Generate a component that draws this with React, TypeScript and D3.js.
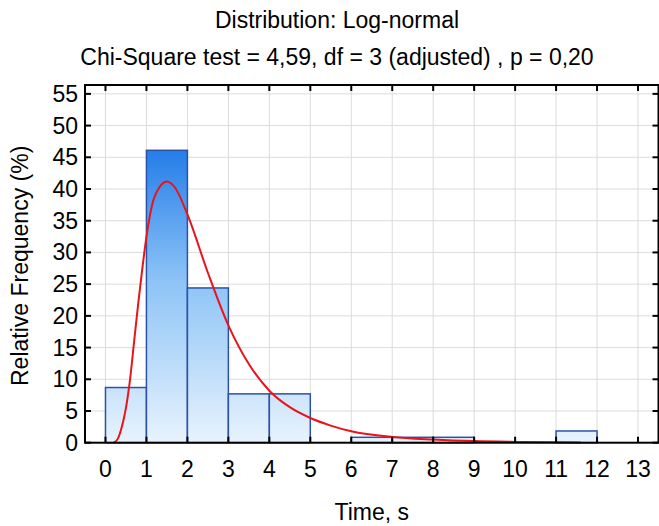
import React, { useEffect, useRef } from 'react';
import * as d3 from 'd3';

// histogram bins (Time, s) and relative frequency (%)
const binStarts = [0, 1, 2, 3, 4, 5, 6, 7, 8, 9, 10, 11, 12];
const binValues = [8.7, 46.1, 24.4, 7.7, 7.7, 0, 0.85, 0.85, 0.85, 0, 0, 1.85, 0];

// fitted log-normal curve
const curveX = [0.2, 0.3, 0.4, 0.5, 0.6, 0.7, 0.8, 0.9, 1.0, 1.2, 1.5, 1.7, 2.0, 2.5, 3.0, 3.5, 4.0, 4.5, 5.0, 5.5, 6.0, 7.0, 8.0, 9.0, 10.0, 11.6];
const curveY = [0, 0.6, 2.5, 5.5, 10.0, 16.0, 22.0, 27.5, 32.5, 38.8, 41.2, 40.2, 36.0, 26.8, 18.5, 12.4, 8.2, 5.6, 3.9, 2.7, 1.8, 0.9, 0.5, 0.25, 0.13, 0.05];

const xTicks = [0, 1, 2, 3, 4, 5, 6, 7, 8, 9, 10, 11, 12, 13];
const yTicks = [0, 5, 10, 15, 20, 25, 30, 35, 40, 45, 50, 55];

const titleLines = ['Distribution: Log-normal', 'Chi-Square test = 4,59, df = 3 (adjusted) , p = 0,20'];

const App = () => {
  const ref = useRef<SVGSVGElement | null>(null);

  useEffect(() => {
    if (!ref.current) return;
    const W = 659;
    const H = 526;
    const left = 85;
    const right = 658.5;
    const top = 85;
    const bottom = 442.7;
    const font = 'Liberation Sans, Arial, sans-serif';
    const fs = 23;

    const svg = d3.select(ref.current);
    svg.selectAll('*').remove();
    svg.attr('width', W).attr('height', H);

    const x = d3.scaleLinear().domain([-0.5, 13.5]).range([left, right]);
    const y = d3.scaleLinear().domain([0, 56.4]).range([bottom, top]);

    // gradient for bars
    const defs = svg.append('defs');
    const grad = defs.append('linearGradient')
      .attr('id', 'barGrad')
      .attr('gradientUnits', 'userSpaceOnUse')
      .attr('x1', 0).attr('x2', 0)
      .attr('y1', y(0)).attr('y2', y(47));
    grad.append('stop').attr('offset', '0%').attr('stop-color', '#e8f3fd');
    grad.append('stop').attr('offset', '55%').attr('stop-color', '#8cc3f6');
    grad.append('stop').attr('offset', '100%').attr('stop-color', '#207ae8');

    svg.append('rect').attr('x', 0).attr('y', 0).attr('width', W).attr('height', H).attr('fill', '#fff');

    // grid
    svg.append('g').selectAll('line.vg')
      .data(xTicks).enter().append('line')
      .attr('x1', d => x(d)).attr('x2', d => x(d))
      .attr('y1', top).attr('y2', bottom)
      .attr('stroke', '#dcdcdc').attr('stroke-width', 1);
    svg.append('g').selectAll('line.hg')
      .data(yTicks).enter().append('line')
      .attr('x1', left).attr('x2', right)
      .attr('y1', d => y(d)).attr('y2', d => y(d))
      .attr('stroke', '#dcdcdc').attr('stroke-width', 1);

    // bars
    const bins = binStarts.map((s, i) => ({ s, v: binValues[i] }));
    svg.append('g').selectAll('rect')
      .data(bins.filter(b => b.v > 0)).enter().append('rect')
      .attr('x', d => x(d.s))
      .attr('y', d => y(d.v))
      .attr('width', d => x(d.s + 1) - x(d.s))
      .attr('height', d => y(0) - y(d.v))
      .attr('fill', 'url(#barGrad)')
      .attr('stroke', '#2c52a6')
      .attr('stroke-width', 1.5);

    // fitted curve
    const pts = curveX.map((cx, i) => [cx, curveY[i]] as [number, number]);
    const line = d3.line<[number, number]>()
      .x(d => x(d[0]))
      .y(d => y(d[1]))
      .curve(d3.curveMonotoneX);
    svg.append('path')
      .datum(pts)
      .attr('d', line)
      .attr('fill', 'none')
      .attr('stroke', '#e8141c')
      .attr('stroke-width', 2);

    // frame
    svg.append('rect')
      .attr('x', left).attr('y', top)
      .attr('width', right - left).attr('height', bottom - top)
      .attr('fill', 'none').attr('stroke', '#000').attr('stroke-width', 2);

    // ticks (inside)
    const tk = svg.append('g').attr('stroke', '#000').attr('stroke-width', 2);
    xTicks.forEach(t => {
      tk.append('line').attr('x1', x(t)).attr('x2', x(t)).attr('y1', bottom).attr('y2', bottom - 6);
      tk.append('line').attr('x1', x(t)).attr('x2', x(t)).attr('y1', top).attr('y2', top + 6);
    });
    yTicks.forEach(t => {
      tk.append('line').attr('x1', left).attr('x2', left + 6).attr('y1', y(t)).attr('y2', y(t));
      tk.append('line').attr('x1', right).attr('x2', right - 6).attr('y1', y(t)).attr('y2', y(t));
    });

    // tick labels
    svg.append('g').selectAll('text')
      .data(xTicks).enter().append('text')
      .attr('x', d => x(d)).attr('y', 477)
      .attr('text-anchor', 'middle')
      .attr('font-family', font).attr('font-size', fs)
      .text(d => d);
    svg.append('g').selectAll('text')
      .data(yTicks).enter().append('text')
      .attr('x', 78).attr('y', d => y(d) + 8)
      .attr('text-anchor', 'end')
      .attr('font-family', font).attr('font-size', fs)
      .text(d => d);

    // titles
    titleLines.forEach((t, i) => {
      svg.append('text')
        .attr('x', 337).attr('y', 28 + i * 37)
        .attr('text-anchor', 'middle')
        .attr('font-family', font).attr('font-size', fs)
        .text(t);
    });

    svg.append('text')
      .attr('x', (left + right) / 2).attr('y', 520)
      .attr('text-anchor', 'middle')
      .attr('font-family', font).attr('font-size', fs)
      .text('Time, s');

    svg.append('text')
      .attr('transform', `translate(28,${(top + bottom) / 2 + 2}) rotate(-90)`)
      .attr('text-anchor', 'middle')
      .attr('font-family', font).attr('font-size', fs)
      .text('Relative Frequency (%)');
  }, []);

  return <svg ref={ref} style={{ position: 'absolute', left: 0, top: 0 }} />;
};

export default App;
